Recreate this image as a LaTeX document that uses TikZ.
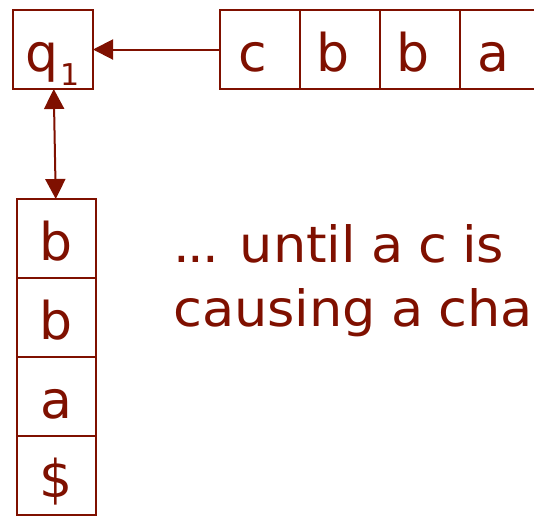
\documentclass[tikz,border=0pt]{standalone}
\usepackage{fontspec}
\setmainfont{DejaVu Sans}
\newfontfamily\notefont[FakeStretch=1.05, WordSpace=0.9]{DejaVu Sans}
\usetikzlibrary{positioning,arrows.meta}

\definecolor{pdared}{HTML}{7F1000}
\newcommand{\bigsym}{\fontsize{52}{52}\selectfont}

\tikzset{
  cell/.style={draw=pdared, line width=1.8pt, outer sep=0pt, inner sep=0pt,
    minimum width=80pt, minimum height=79pt, text=pdared, font=\bigsym,
    text height=43pt, text depth=0pt},
  stackcell/.style={cell, minimum width=79pt},
  tapecell/.style={cell, label={[text=pdared, font=\bigsym, inner sep=0pt,
    text height=43pt, text depth=0pt, xshift=-7pt]center:#1}},
  move/.style={draw=pdared, line width=2pt,
    -{Triangle[length=20pt,width=20pt]}},
  note/.style={text=pdared, inner sep=0pt, anchor=base west,
    font=\notefont\fontsize{50}{64}\selectfont},
}

\begin{document}
\begin{tikzpicture}[x=1pt, y=-1pt]
\useasboundingbox (0,0) rectangle (534,515);
\clip (0,0) rectangle (534,515);

% control state
\node [cell] (q) at (53,49.5)
  {q\hspace{2pt}\raisebox{-14pt}{\fontsize{30}{30}\selectfont 1}};

% input tape
\node [tapecell=c] (t1) at (260,49.5) {};
\node [tapecell=b, right=0pt of t1] (t2) {};
\node [tapecell=b, right=0pt of t2] (t3) {};
\node [tapecell=a, right=0pt of t3] (t4) {};

% stack
\node [stackcell] (s1) at (56.5,238.5) {b};
\node [stackcell, below=0pt of s1] (s2) {b};
\node [stackcell, below=0pt of s2] (s3) {a};
\node [stackcell, below=0pt of s3] (s4) {\$};

\draw [move] (t1) -- (q);
\draw [move, {Triangle[length=20pt,width=20pt]}-{Triangle[length=20pt,width=20pt]}] (q) -- (s1);

\node [note] (l1) at (173,262) {.\kern-2pt.\kern-2pt. until a c is};
\node [note] (l2) at (173,326) {causing a cha};
\end{tikzpicture}
\end{document}
